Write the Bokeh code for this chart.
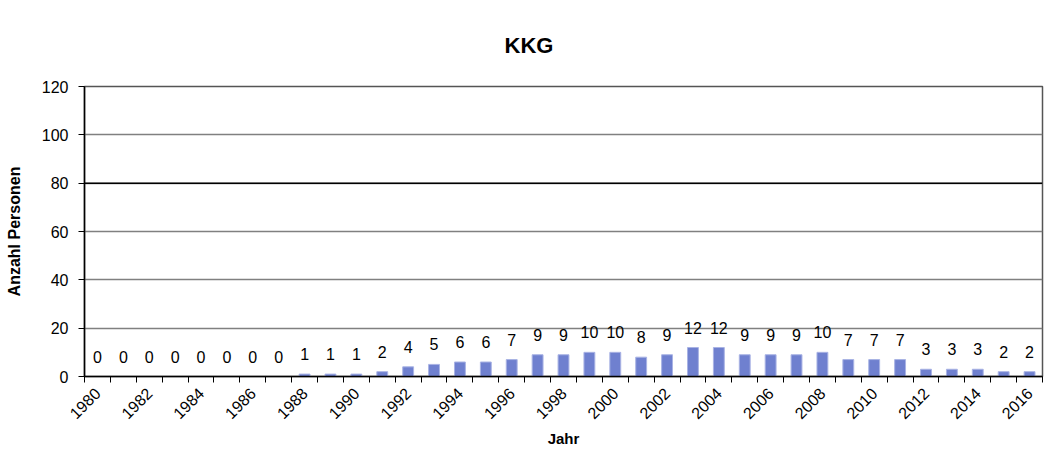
from bokeh.plotting import figure
from bokeh.models import ColumnDataSource, FixedTicker, Span
from bokeh.core.properties import value
from bokeh.embed import file_html
from bokeh.resources import INLINE
import math

years = list(range(1980, 2017))
persons = [0, 0, 0, 0, 0, 0, 0, 0,
           1, 1, 1, 2, 4, 5, 6, 6, 7, 9, 9, 10, 10, 8, 9, 12, 12,
           9, 9, 9, 10, 7, 7, 7, 3, 3, 3, 2, 2]
labels = [str(v) for v in persons]
y_ticks = [0, 20, 40, 60, 80, 100, 120]
x_label_years = [y for y in years if y % 2 == 0]
title_text = "KKG"

FONT = "Liberation Sans"

W, H = 1044, 450
BL, BR, BT, BB = 84, 2, 86, 74

src = ColumnDataSource(data=dict(x=years, y=persons, t=labels))

p = figure(width=W, height=H, output_backend="svg", toolbar_location=None,
           x_range=(years[0] - 0.5, years[-1] + 0.5), y_range=(0, 120),
           min_border_left=BL, min_border_right=BR, min_border_top=BT, min_border_bottom=BB)

p.title.text = title_text
p.title.align = "left"
p.title.offset = 420
p.title.text_font = FONT
p.title.text_font_size = "22px"
p.title.text_font_style = "bold"
p.title.text_color = "#000000"
p.title.standoff = 58

p.vbar(x="x", top="y", width=0.42, source=src, fill_color="#6f80cf",
       line_color="#a9b3e4", line_width=1)

p.text(x="x", y="y", text="t", source=src, text_align="center", text_baseline="bottom",
       y_offset=-14, text_font=value(FONT), text_font_size="16px", text_color="#000000")

# grid
p.xgrid.visible = False
p.ygrid.ticker = FixedTicker(ticks=y_ticks)
p.ygrid.grid_line_color = "#808080"
p.ygrid.grid_line_width = 1.5
p.add_layout(Span(location=80, dimension="width", line_color="#000000", line_width=1.5))

p.outline_line_color = "#555555"
p.outline_line_width = 1.5

# y axis
p.yaxis.ticker = FixedTicker(ticks=y_ticks)
p.yaxis.axis_label = "Anzahl Personen"
p.yaxis.axis_label_text_font = FONT
p.yaxis.axis_label_text_font_size = "16px"
p.yaxis.axis_label_text_font_style = "bold"
p.yaxis.axis_label_text_color = "#000000"
p.yaxis.axis_label_standoff = 16
p.yaxis.major_label_text_font = FONT
p.yaxis.major_label_text_font_size = "16px"
p.yaxis.major_label_text_color = "#000000"
p.yaxis.major_label_standoff = 10
p.yaxis.major_tick_in = 0
p.yaxis.major_tick_out = 6
p.yaxis.minor_tick_line_color = None
p.yaxis.axis_line_color = "#000000"
p.yaxis.axis_line_width = 1.5
p.yaxis.major_tick_line_color = "#000000"

# x axis
xax = p.below[0]
boundaries = [y - 0.5 for y in years] + [years[-1] + 0.5]
xax.ticker = FixedTicker(ticks=x_label_years, minor_ticks=boundaries)
xax.major_label_orientation = math.pi / 4
xax.axis_label = "Jahr"
xax.axis_label_text_font = FONT
xax.axis_label_text_font_size = "15px"
xax.axis_label_text_font_style = "bold"
xax.axis_label_text_color = "#000000"
xax.axis_label_standoff = 3
xax.major_label_text_font = FONT
xax.major_label_text_font_size = "16px"
xax.major_label_text_color = "#000000"
xax.major_label_standoff = 8
xax.major_tick_line_color = None
xax.major_tick_in = 0
xax.major_tick_out = 0
xax.minor_tick_in = 0
xax.minor_tick_out = 6
xax.minor_tick_line_color = "#000000"
xax.axis_line_color = "#000000"
xax.axis_line_width = 1.5

open("out.html", "w").write(file_html(p, INLINE))
